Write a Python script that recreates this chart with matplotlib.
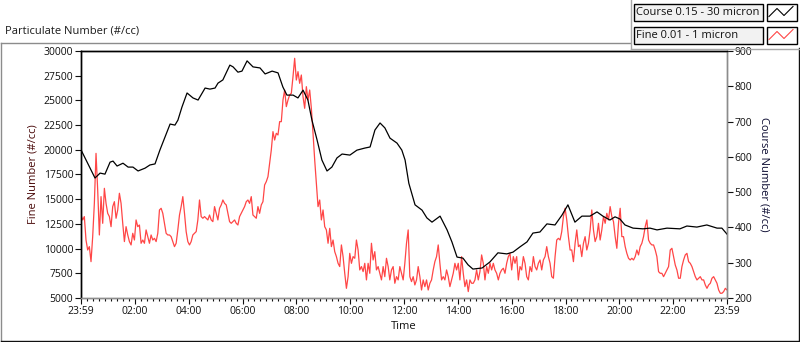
import numpy as np
import matplotlib
matplotlib.use("Agg")
import matplotlib.pyplot as plt
from matplotlib.patches import Rectangle
from matplotlib.lines import Line2D
from matplotlib.ticker import MultipleLocator, FixedLocator

plt.rcParams['font.family'] = ['Open Sans', 'DejaVu Sans']

# ---------------- data ----------------
# Course (0.15 - 30 micron) : hours since 23:59, counts (#/cc)
course_hours = [0.00, 0.52, 0.71, 0.89, 1.08, 1.19, 1.34, 1.56, 1.75, 1.93, 2.12, 2.38, 2.56, 2.75,
                2.93, 3.12, 3.31, 3.49, 3.60, 3.75, 3.94, 4.16, 4.35, 4.61, 4.79, 4.98, 5.09, 5.27,
                5.53, 5.65, 5.83, 5.98, 6.17, 6.39, 6.65, 6.84, 7.10, 7.32, 7.50, 7.65, 7.88, 8.06,
                8.25, 8.43, 8.58, 8.77, 8.95, 9.14, 9.32, 9.51, 9.70, 9.99, 10.25, 10.55, 10.74,
                10.92, 11.11, 11.29, 11.48, 11.74, 11.92, 12.04, 12.18, 12.41, 12.67, 12.85, 13.04,
                13.34, 13.60, 13.78, 13.97, 14.19, 14.38, 14.56, 14.90, 15.19, 15.49, 15.82, 16.05,
                16.31, 16.57, 16.79, 17.05, 17.31, 17.61, 17.87, 18.09, 18.35, 18.61, 18.91, 19.17,
                19.39, 19.65, 19.84, 20.02, 20.21, 20.51, 20.88, 21.14, 21.40, 21.77, 22.25, 22.51,
                22.88, 23.25, 23.63, 23.81, 24.00]
course_values = [620, 540, 554, 551, 585, 588, 574, 582, 571, 571, 560, 568, 577, 580,
                 619, 656, 693, 690, 704, 741, 781, 767, 761, 795, 792, 795, 809, 818,
                 860, 855, 840, 843, 872, 855, 852, 835, 843, 838, 798, 775, 775, 767,
                 789, 761, 704, 648, 591, 560, 571, 597, 608, 605, 619, 625, 628,
                 676, 696, 682, 653, 639, 619, 591, 525, 464, 449, 427, 415,
                 432, 393, 359, 316, 313, 294, 282, 285, 302, 328, 325, 330,
                 345, 359, 384, 387, 410, 407, 435, 464, 415, 432, 432, 444,
                 432, 421, 430, 424, 407, 398, 396, 398, 393, 398, 396, 404,
                 401, 407, 398, 398, 381]

# Fine (0.01 - 1 micron) : logged at a regular interval over the day
fine_values = [
    13400, 12900, 13240, 10870, 9860, 10200, 8680, 11210, 14580, 19640, 15930, 11380, 15260, 12560,
    16100, 14580, 13570, 13240, 12220, 14250, 14750, 13070, 13910, 15600, 14580, 12560, 10710, 12220,
    11380, 10710, 10370, 11550, 10870, 12900, 12220, 12390, 10540, 10870, 10540, 11890, 11210, 10540,
    11380, 10870, 11040, 10710, 11550, 13910, 14080, 13570, 12560, 11550, 11380, 11380, 11210, 10710,
    10200, 10540, 11890, 13400, 14250, 15260, 13570, 11720, 10710, 10370, 10710, 11380, 11550, 11720,
    12900, 14920, 13240, 13070, 13240, 13070, 12900, 13400, 12900, 12730, 14250, 13570, 12900, 14080,
    14420, 14920, 14580, 14420, 13570, 12730, 12560, 12730, 12900, 12560, 12390,
    13240, 13570, 13910, 14250, 14750, 14920, 14580, 15260, 13400, 13240, 13070, 14250, 13570, 14420,
    14750, 16440, 16780, 17280, 18630, 19980, 21840, 20990, 21670, 21500, 22850, 22850, 25040, 26050,
    24370, 25040, 25550, 25720, 27400, 29260, 27060, 27910, 26730, 27570, 25380, 24200, 26390, 25040,
    26050, 24200, 21670, 18970, 16610, 14250, 14920, 12900, 13910, 12220, 11890, 10540, 12050, 10200,
    10870, 9690, 9190, 8510, 8180, 10370, 9190, 7500, 5980, 7160, 9520, 8510, 9190, 9020,
    10870, 9860, 7840, 8180, 7670, 8510, 6830, 8510, 7500, 10540, 8850, 9690, 7840, 8180,
    7500, 6830, 8180, 7160, 9020, 8180, 6830, 7840, 8180, 6490, 7160, 6830,
    8180, 7500, 6830, 8510, 10540, 11890, 7160, 6660, 7160, 6320, 6830, 8180, 7160, 5810,
    6830, 6150, 6830, 5810, 6490, 6830, 7840, 8680, 9190, 10370, 8510, 6830, 7160, 6830,
    7840, 7160, 6150, 6830, 7500, 8510, 7840, 8510, 6830, 9190, 7500, 6150, 6830, 5650,
    6830, 6490, 6490, 6830, 7840, 6830, 7670, 9360, 8510, 6830, 8180, 7500, 8510, 7840,
    8510, 7840, 7500, 6830, 7500, 7840, 8010, 7500, 8510, 9190, 9520, 7840, 9190, 8510,
    9190, 6830, 8180, 7840, 9190, 8510, 7160, 6830, 8180, 7670, 9190, 8180, 7840, 8510,
    8850, 7840, 8850, 9190, 10200, 9190, 8510, 7160, 7000, 9190, 10870, 11040,
    10870, 11720, 13240, 14080, 12900, 11210, 9860, 9860, 8680, 10540, 11890, 10200, 10370, 9190,
    10540, 11210, 9860, 10540, 11890, 13910, 11890, 10710, 11210, 12560, 10870, 11890, 13240, 12560,
    13570, 12900, 14250, 13240, 12730, 11210, 10030, 12560, 14080, 11210, 11210, 10200, 9520, 9020,
    8850, 9020, 8850, 9190, 9860, 9360, 10200, 10540, 11210, 12220, 12900, 10870, 10540, 10370,
    10370, 9860, 9190, 7670, 7500, 7500, 7160, 7500, 7840, 8180, 9860, 10030, 9190, 8340,
    7840, 7000, 7000, 8180, 8850, 9360, 9520, 8680, 8510, 8180, 7670, 7160, 6830, 7000,
    7160, 6830, 6830, 6320, 5980, 6320, 6490, 7000, 7160, 6830, 6490, 5810, 5480, 5480,
    5650, 5980, 5810]
fine_hours = np.linspace(0, 24, len(fine_values))

xtick_hours = [0, 2, 4, 6, 8, 10, 12, 14, 16, 18, 20, 22, 24]
xtick_labels = ['23:59', '02:00', '04:00', '06:00', '08:00', '10:00', '12:00',
                '14:00', '16:00', '18:00', '20:00', '22:00', '23:59']
fine_ticks = [5000, 7500, 10000, 12500, 15000, 17500, 20000, 22500, 25000, 27500, 30000]
course_ticks = [200, 300, 400, 500, 600, 700, 800, 900]

legend_labels = ['Course 0.15 - 30 micron', 'Fine 0.01 - 1 micron']
RED = '#ff4646'
BLACK = '#000000'

# ---------------- figure ----------------
W, H = 800, 342
fig = plt.figure(figsize=(W / 100, H / 100), dpi=100)
fig.patch.set_facecolor('white')


def fx(x):
    return x / W


def fy(y):
    return 1 - y / H


# panel frame
fig.add_artist(Line2D([fx(0.5), fx(630)], [fy(42.5), fy(42.5)], color='#8c8c8c', lw=1.0))
fig.add_artist(Line2D([fx(0.5), fx(0.5)], [fy(42.5), fy(341)], color='#8c8c8c', lw=1.0))
fig.add_artist(Line2D([fx(0.5), fx(798.5)], [fy(340.8), fy(340.8)], color='#101010', lw=1.0))
fig.add_artist(Line2D([fx(798.5), fx(798.5)], [fy(48), fy(341)], color='#101010', lw=1.0))
# legend panel border
fig.add_artist(Line2D([fx(630.5), fx(630.5)], [fy(0), fy(48.5)], color='#a8a8a8', lw=1.0))
fig.add_artist(Line2D([fx(630.5), fx(800)], [fy(48.5), fy(48.5)], color='#a8a8a8', lw=1.0))

fig.text(fx(5), fy(31), 'Particulate Number (#/cc)', fontsize=8, ha='left', va='center',
         color='#1a1a1a')

# axes
ax = fig.add_axes([fx(81), fy(298), (727 - 81) / W, (298 - 51) / H])
ax2 = ax.twinx()

ax.plot(fine_hours, fine_values, color=RED, lw=0.9)
ax2.plot(course_hours, course_values, color=BLACK, lw=0.9)

ax.set_xlim(0, 24)
ax.set_ylim(5000, 30000)
ax2.set_ylim(200, 900)

ax.xaxis.set_major_locator(FixedLocator(xtick_hours))
ax.set_xticklabels(xtick_labels)
ax.xaxis.set_minor_locator(MultipleLocator(2 / 9))
ax.set_yticks(fine_ticks)
ax.set_yticklabels([str(v) for v in fine_ticks])
ax2.set_yticks(course_ticks)
ax2.set_yticklabels([str(v) for v in course_ticks])

for a in (ax, ax2):
    a.tick_params(axis='both', which='major', direction='out', length=4, width=0.8,
                  labelsize=7.5, pad=1.5, colors='#101010')
    a.tick_params(axis='x', which='minor', direction='out', length=2.2, width=0.8, colors='#101010')

for a in (ax, ax2):
    a.spines['top'].set_color('black')
    a.spines['left'].set_color('black')
    a.spines['right'].set_color('#8c8c8c')
    a.spines['bottom'].set_color('#8c8c8c')
    for s in a.spines.values():
        s.set_linewidth(1.0)

ax.set_ylabel('Fine Number (#/cc)', fontsize=8, color='#4a0a0a', labelpad=4)
ax2.set_ylabel('Course Number (#/cc)', fontsize=8, color='#0a0a30', rotation=-90,
               labelpad=12)
ax.set_xlabel('Time', fontsize=8, color='#101010', labelpad=3)

# legend (drawn as figure artists)
rows = [(4, BLACK), (27, RED)]
for (ytop, col), lab in zip(rows, legend_labels):
    fig.add_artist(Rectangle((fx(633.5), fy(ytop + 16.5)), (763 - 633.5) / W, 16.5 / H,
                             facecolor='#f2f2f2', edgecolor='black', lw=1.0))
    fig.text(fx(636), fy(ytop + 8.5), lab, fontsize=8, ha='left', va='center', color='#101010')
    fig.add_artist(Rectangle((fx(766.5), fy(ytop + 16.5)), (797 - 766.5) / W, 16.5 / H,
                             facecolor='white', edgecolor='black', lw=1.0))
    zx = [769, 777, 784, 793]
    zy = [ytop + 12.5, ytop + 4.5, ytop + 11.5, ytop + 2.5]
    fig.add_artist(Line2D([fx(v) for v in zx], [fy(v) for v in zy], color=col, lw=0.8))

fig.savefig('out.png', dpi=100, facecolor='white')
